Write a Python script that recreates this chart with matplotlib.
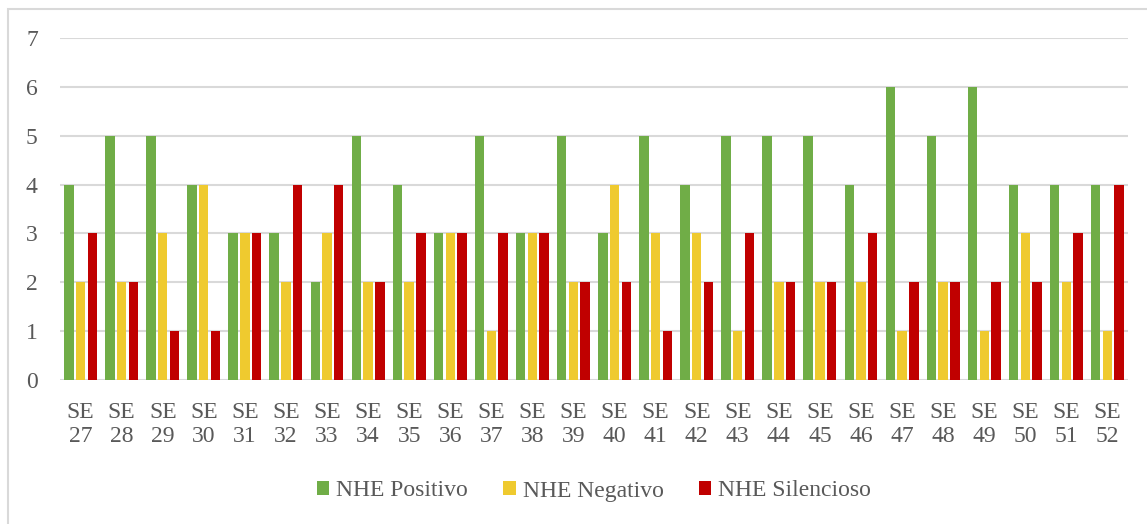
import numpy as np
import matplotlib.pyplot as plt
from matplotlib.patches import Rectangle

# semanas epidemiologicas
semanas = [f"SE\n{n}" for n in range(27, 53)]

positivo = [4, 5, 5, 4, 3, 3, 2, 5, 4, 3, 5, 3, 5, 3, 5, 4, 5, 5, 5, 4, 6, 5, 6, 4, 4, 4]
negativo = [2, 2, 3, 4, 3, 2, 3, 2, 2, 3, 1, 3, 2, 4, 3, 3, 1, 2, 2, 2, 1, 2, 1, 3, 2, 1]
silencioso = [3, 2, 1, 1, 3, 4, 4, 2, 3, 3, 3, 3, 2, 2, 1, 2, 3, 2, 2, 3, 2, 2, 2, 2, 3, 4]

series = ["NHE Positivo", "NHE Negativo", "NHE Silencioso"]
colores = ["#70AD47", "#EFCA2F", "#C00000"]

plt.rcParams["font.family"] = ["Liberation Serif", "DejaVu Serif"]
txt = "#595959"

fig = plt.figure(figsize=(11.47, 5.24), dpi=100)
ax = fig.add_axes([60 / 1147, 1 - 380 / 524, (1128 - 60) / 1147, (380 - 38) / 524])

x = np.arange(len(semanas))
w = 0.23
step = 0.285
for i, (vals, nombre, c) in enumerate(zip([positivo, negativo, silencioso], series, colores)):
    ax.bar(x + (i - 1) * step, vals, width=w, color=c, label=nombre, zorder=3)

ax.set_xlim(-0.5, len(semanas) - 0.5)
ax.set_ylim(0, 7)
ax.set_yticks(range(0, 8))
ax.grid(axis="y", color="#D9D9D9", linewidth=1.5, zorder=0)
for s in ax.spines.values():
    s.set_visible(False)

ax.set_xticks(x)
ax.set_xticklabels(semanas, multialignment="center", linespacing=1.2)
ax.tick_params(axis="x", length=0, pad=16, labelsize=17, labelcolor=txt)
ax.tick_params(axis="y", length=0, pad=16, labelsize=17, labelcolor=txt)

fig.legend(loc="center", bbox_to_anchor=(594 / 1147, 1 - 491 / 524), ncol=3,
           frameon=False, fontsize=17, labelcolor=txt,
           handlelength=0.52, handleheight=0.52, handletextpad=0.3, columnspacing=1.5)

# marco del grafico
fig.patches.append(Rectangle((8 / 1147, -0.1), 1.2, 1 - 9 / 524 + 0.1,
                             transform=fig.transFigure, fill=False,
                             edgecolor="#D9D9D9", linewidth=1.5))

fig.savefig("out.png", dpi=100)
